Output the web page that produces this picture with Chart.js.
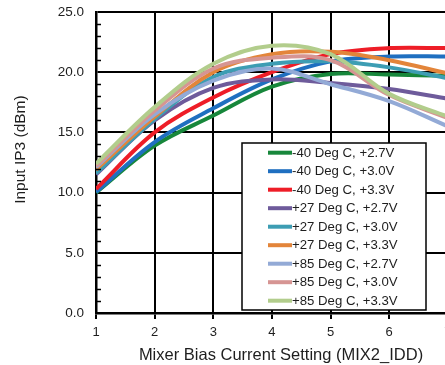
<!DOCTYPE html>
<html>
<head>
<meta charset="utf-8">
<script src="https://cdn.jsdelivr.net/npm/chart.js@4/dist/chart.umd.min.js"></script>
<style>
html,body{margin:0;padding:0;background:#fff;overflow:hidden;width:445px;height:365px;}
#wrap{width:445px;height:365px;overflow:hidden;position:relative;}
canvas{position:absolute;left:0;top:0;}
</style>
</head>
<body>
<div id="wrap"><canvas id="c" width="477" height="365"></canvas></div>
<script>
// ---- data ----
const xValues = [1, 2, 3, 4, 5, 6, 7];
const seriesLabels = [
  "-40 Deg C, +2.7V", "-40 Deg C, +3.0V", "-40 Deg C, +3.3V",
  "+27 Deg C, +2.7V", "+27 Deg C, +3.0V", "+27 Deg C, +3.3V",
  "+85 Deg C, +2.7V", "+85 Deg C, +3.0V", "+85 Deg C, +3.3V"
];
const m40_27 = [10.0, 13.9, 16.4, 18.8, 19.85, 19.8, 19.7];
const m40_30 = [10.05, 14.2, 17.0, 19.4, 20.9, 21.3, 21.3];
const m40_33 = [10.3, 15.0, 17.9, 20.0, 21.5, 22.0, 22.0];
const p27_27 = [11.5, 16.0, 18.7, 19.4, 19.1, 18.6, 17.8];
const p27_30 = [11.6, 16.1, 19.6, 20.7, 20.9, 20.4, 19.5];
const p27_33 = [11.9, 16.3, 20.0, 21.5, 21.7, 21.0, 19.9];
const p85_27 = [12.1, 16.5, 19.3, 20.3, 19.0, 17.6, 15.5];
const p85_30 = [12.2, 16.8, 20.3, 21.2, 21.0, 18.1, 16.2];
const p85_33 = [12.4, 17.1, 20.7, 22.2, 21.5, 18.2, 16.3];
const yTickValues = [0, 5, 10, 15, 20, 25];

const allSeries = [m40_27, m40_30, m40_33, p27_27, p27_30, p27_33, p85_27, p85_30, p85_33];
const colors = ["#17873b", "#1f6fc0", "#ee1d27", "#6e5b9b", "#3d9db3", "#e3853a", "#93aad6", "#d69593", "#b2cd8c"];

const FONT = "'Liberation Sans', Arial, sans-serif";
const TXT = "#1e1e1e";

const datasets = allSeries.map((s, i) => ({
  label: seriesLabels[i],
  data: s.map((v, k) => ({ x: xValues[k], y: v })),
  borderColor: colors[i],
  backgroundColor: colors[i],
  borderWidth: 4,
  pointRadius: 0,
  tension: 0.35,
  fill: false,
  order: allSeries.length - i
}));

const minorTicks = {
  id: 'minorTicks',
  afterDraw(chart) {
    const ctx = chart.ctx, y = chart.scales.y, a = chart.chartArea;
    ctx.save();
    ctx.strokeStyle = '#000';
    ctx.lineWidth = 1.5;
    for (let v = 0; v <= 25; v++) {
      if (v % 5 === 0) continue;
      const py = Math.round(y.getPixelForValue(v)) + 0.5;
      ctx.beginPath();
      ctx.moveTo(a.left, py);
      ctx.lineTo(a.left + 5, py);
      ctx.stroke();
    }
    ctx.restore();
  }
};

const boxLegend = {
  id: 'boxLegend',
  afterDraw(chart) {
    const ctx = chart.ctx;
    const bx = 242, by = 143, bw = 184, bh = 167;
    ctx.save();
    ctx.fillStyle = '#fff';
    ctx.fillRect(bx, by, bw, bh);
    ctx.strokeStyle = '#000';
    ctx.lineWidth = 1.5;
    ctx.strokeRect(bx, by, bw, bh);
    ctx.font = "13.2px " + FONT;
    ctx.textBaseline = 'middle';
    chart.data.datasets.forEach((d, i) => {
      const yy = 152.7 + i * 18.5;
      ctx.strokeStyle = d.borderColor;
      ctx.lineWidth = 4;
      ctx.beginPath();
      ctx.moveTo(268, yy);
      ctx.lineTo(292, yy);
      ctx.stroke();
      ctx.fillStyle = TXT;
      ctx.fillText(d.label, 292, yy + 0.5);
    });
    ctx.restore();
  }
};

new Chart(document.getElementById('c'), {
  type: 'line',
  data: { datasets },
  plugins: [minorTicks, boxLegend],
  options: {
    responsive: false,
    devicePixelRatio: 1,
    animation: false,
    events: [],
    layout: { padding: { top: 12, right: 11, left: 0, bottom: 0 } },
    plugins: { legend: { display: false }, tooltip: { enabled: false } },
    scales: {
      x: {
        type: 'linear',
        min: 1, max: 7.31,
        afterBuildTicks(scale) { scale.ticks = xValues.map(v => ({ value: v })); },
        afterFit(scale) { scale.height = 52; },
        border: { display: true, color: '#000', width: 2.5 },
        grid: { color: '#000', lineWidth: 2, drawTicks: true, tickLength: 6, tickColor: '#000', tickWidth: 2 },
        ticks: { color: TXT, font: { family: FONT, size: 13 }, padding: 6, maxRotation: 0,
                 callback: v => String(v) },
        title: { display: true, text: 'Mixer Bias Current Setting (MIX2_IDD)', color: TXT,
                 font: { family: FONT, size: 16.5 }, padding: { top: 0, bottom: 0 } }
      },
      y: {
        min: 0, max: 25,
        afterBuildTicks(scale) { scale.ticks = yTickValues.map(v => ({ value: v })); },
        afterFit(scale) { scale.width = 96; },
        border: { display: true, color: '#000', width: 2.5 },
        grid: { color: '#000', lineWidth: 2, drawTicks: true, tickLength: 12, tickColor: 'rgba(0,0,0,0)' },
        ticks: { color: TXT, font: { family: FONT, size: 13.5 }, padding: 0,
                 callback: v => Number(v).toFixed(1) },
        title: { display: true, text: '      Input IP3 (dBm)', color: TXT,
                 font: { family: FONT, size: 15.5 }, padding: { top: 11, bottom: 0 } }
      }
    }
  }
});
</script>
</body>
</html>
